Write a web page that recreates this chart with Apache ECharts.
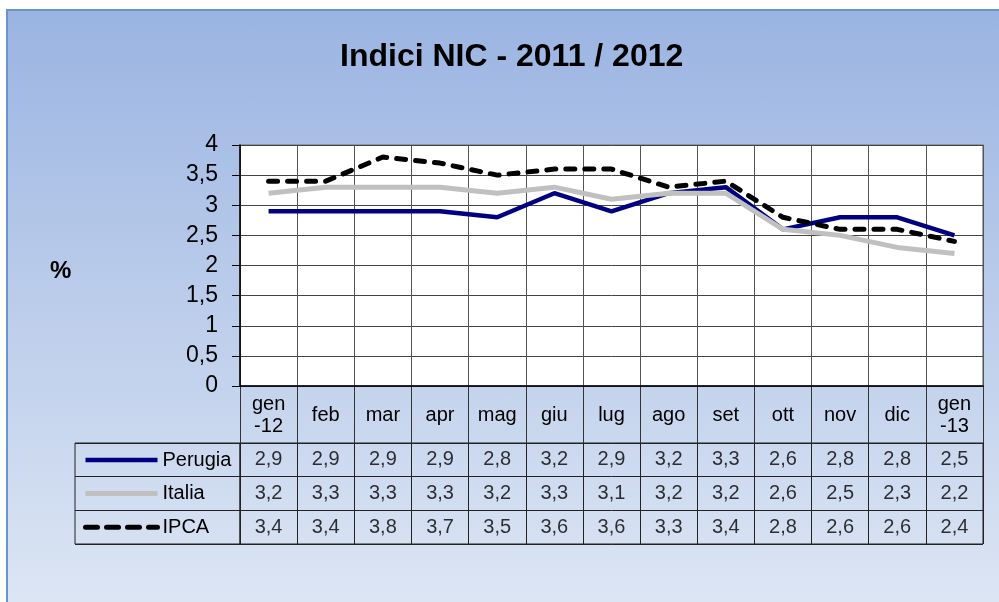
<!DOCTYPE html>
<html>
<head>
<meta charset="utf-8">
<script src="https://cdn.jsdelivr.net/npm/echarts@6/dist/echarts.min.js"></script>
<style>
html,body{margin:0;padding:0;background:#fff;}
#wrap{position:relative;width:999px;height:602px;overflow:hidden;background:#fff;}
#bg{position:absolute;left:6px;top:9px;width:1000px;height:600px;border-left:2px solid #6a92cb;border-top:2px solid #6a92cb;
background:linear-gradient(to bottom,#9ab4e2 0%,#b9cbea 45%,#dde6f4 100%);}
#chart{position:absolute;left:0;top:0;width:999px;height:602px;}
</style>
</head>
<body>
<div id="wrap"><div id="bg"></div><div id="chart"></div></div>
<script>
var titleText = 'Indici NIC - 2011 / 2012';
var yAxisTitle = '%';
var categories = ['gen\n-12','feb','mar','apr','mag','giu','lug','ago','set','ott','nov','dic','gen\n-13'];
var seriesNames = ['Perugia','Italia','IPCA'];
var perugia = [2.9,2.9,2.9,2.9,2.8,3.2,2.9,3.2,3.3,2.6,2.8,2.8,2.5];
var italia  = [3.2,3.3,3.3,3.3,3.2,3.3,3.1,3.2,3.2,2.6,2.5,2.3,2.2];
var ipca    = [3.4,3.4,3.8,3.7,3.5,3.6,3.6,3.3,3.4,2.8,2.6,2.6,2.4];
var yTicks = {min:0, max:4, interval:0.5};

var FONT = 'Liberation Sans, Arial, sans-serif';
function comma(v){ return String(v).replace('.', ','); }

var allValues = [perugia, italia, ipca];
var cellData = [];
allValues.forEach(function(arr, r){
  arr.forEach(function(v, i){ cellData.push([i, r, v]); });
});

var lineStyles = [
  {color:'#000080', width:4.5},
  {color:'#c0c0c0', width:5},
  {color:'#000000', width:5, type:[9,10], cap:'round'}
];
var legendLineStyles = [
  {color:'#000080', width:4.5},
  {color:'#c0c0c0', width:5},
  {color:'#000000', width:5, type:[12,9], cap:'round'}
];

var chart = echarts.init(document.getElementById('chart'), null, {renderer:'canvas'});
var catAxisBase = {type:'category', data:categories, boundaryGap:true};

chart.setOption({
  backgroundColor:'transparent',
  animation:false,
  title:[
    {text:titleText, left:340, top:41, padding:0,
     textStyle:{fontFamily:FONT, fontSize:32, fontWeight:'bold', color:'#000'}},
    {text:yAxisTitle, left:50, top:259, padding:0,
     textStyle:{fontFamily:FONT, fontSize:24, fontWeight:'bold', color:'#000'}}
  ],
  legend:{
    data:seriesNames.map(function(n, i){
      return {name:n, lineStyle:legendLineStyles[i],
        itemStyle:{color:'rgba(0,0,0,0)', borderColor:'rgba(0,0,0,0)', borderWidth:0}};
    }),
    orient:'vertical', left:83, top:450, padding:0,
    itemWidth:72, itemHeight:20, itemGap:13.6,
    textStyle:{fontFamily:FONT, fontSize:20, color:'#000'},
    itemStyle:{color:'rgba(0,0,0,0)', borderColor:'rgba(0,0,0,0)', borderWidth:0},
    selectedMode:false
  },
  grid:[
    {left:240, top:145, right:16, height:241, show:true, backgroundColor:'#fff', borderColor:'#888', borderWidth:1.5},
    {left:240, top:386, right:16, height:57},
    {left:75, top:443, width:165, height:101, show:true, borderColor:'#222', borderWidth:1},
    {left:240, top:443, right:16, height:101, show:true, borderColor:'#222', borderWidth:1}
  ],
  xAxis:[
    Object.assign({}, catAxisBase, {gridIndex:0,
      axisLine:{show:true, lineStyle:{color:'#000', width:1.5}},
      axisTick:{show:false}, axisLabel:{show:false},
      splitLine:{show:true, interval:0, lineStyle:{color:'#555', width:1}}}),
    Object.assign({}, catAxisBase, {gridIndex:1, position:'bottom',
      axisLine:{show:true, lineStyle:{color:'#222', width:1}},
      axisTick:{show:false},
      axisLabel:{show:true, interval:0, margin:-28, verticalAlign:'middle', align:'center', lineHeight:22,
        fontFamily:FONT, fontSize:20, color:'#000'},
      splitLine:{show:true, interval:0, lineStyle:{color:'#333', width:1}}}),
    {type:'value', gridIndex:2, min:0, max:1, show:false},
    Object.assign({}, catAxisBase, {gridIndex:3,
      axisLine:{show:false}, axisTick:{show:false}, axisLabel:{show:false},
      splitLine:{show:true, interval:0, lineStyle:{color:'#222', width:1}}})
  ],
  yAxis:[
    {type:'value', gridIndex:0, min:yTicks.min, max:yTicks.max, interval:yTicks.interval,
      axisLine:{show:true, lineStyle:{color:'#000', width:1.5}},
      axisTick:{show:true, length:8, lineStyle:{color:'#000'}},
      axisLabel:{margin:22, fontFamily:FONT, fontSize:23, color:'#000', formatter:function(v){return comma(v);}},
      splitLine:{show:true, lineStyle:{color:'#444', width:1}}},
    {type:'value', gridIndex:1, show:false},
    {type:'category', gridIndex:2, data:seriesNames, inverse:true,
      axisLine:{show:false}, axisTick:{show:false}, axisLabel:{show:false},
      splitLine:{show:true, interval:0, lineStyle:{color:'#222', width:1}}},
    {type:'category', gridIndex:3, data:seriesNames, inverse:true,
      axisLine:{show:false}, axisTick:{show:false}, axisLabel:{show:false},
      splitLine:{show:true, interval:0, lineStyle:{color:'#222', width:1}}}
  ],
  series:[
    {name:seriesNames[0], type:'line', xAxisIndex:0, yAxisIndex:0, data:perugia,
      symbol:'none', lineStyle:lineStyles[0], itemStyle:{color:lineStyles[0].color}},
    {name:seriesNames[1], type:'line', xAxisIndex:0, yAxisIndex:0, data:italia,
      symbol:'none', lineStyle:lineStyles[1], itemStyle:{color:lineStyles[1].color}},
    {name:seriesNames[2], type:'line', xAxisIndex:0, yAxisIndex:0, data:ipca,
      symbol:'none', lineStyle:lineStyles[2], itemStyle:{color:lineStyles[2].color}},
    {type:'scatter', xAxisIndex:3, yAxisIndex:3, data:cellData, symbolSize:1,
      itemStyle:{color:'rgba(0,0,0,0)'}, silent:true,
      label:{show:true, position:'inside', fontFamily:FONT, fontSize:20, color:'#000',
        formatter:function(p){return comma(p.value[2]);}}}
  ]
});
</script>
</body>
</html>
